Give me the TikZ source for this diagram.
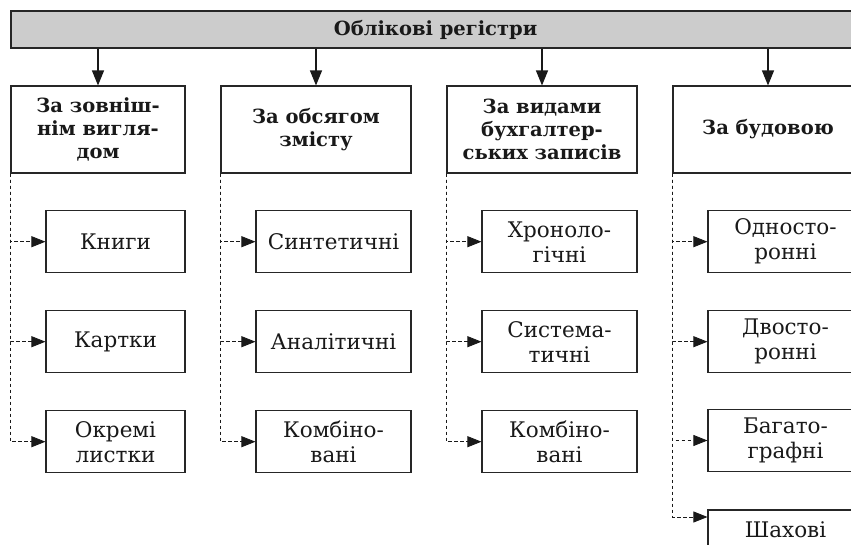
\documentclass[tikz,border=0pt]{standalone}
\usepackage{fontspec}
\setmainfont{DejaVu Serif}
\usetikzlibrary{arrows.meta}
\begin{document}
\begin{tikzpicture}[x=1pt, y=-1pt,
  every node/.style={draw=black!85, line width=1.1pt, inner sep=2pt, align=center, text=black!90},
  head/.style={fill=black!20, minimum width=849pt, minimum height=37pt, font=\bfseries\fontsize{19.5}{22}\selectfont},
  cat/.style={fill=white, minimum width=190pt, minimum height=87pt, font=\bfseries\fontsize{19.5}{23}\selectfont},
  item/.style={minimum width=155pt, minimum height=62pt, font=\fontsize{21.5}{25}\selectfont},
  down/.style={-{Triangle[length=15pt,width=12pt]}, line width=1.1pt, black!90},
  dashcon/.style={-{Triangle[length=14pt,width=11pt]}, line width=0.8pt, dash pattern=on 3.5pt off 2.5pt, black!90}]
  \clip (0,0) rectangle (851,544);
  % header bar
  \node[head] (reg) at (435.5,29.5) {Облікові регістри};
  % categories
  \node[cat, minimum width=174pt] (c1) at (98,129.5) {За зовніш-\\нім вигля-\\дом};
  \node[cat] (c2) at (316,129.5) {За обсягом\\змісту};
  \node[cat] (c3) at (542,129.5) {За видами\\бухгалтер-\\ських записів};
  \node[cat] (c4) at (768,129.5) {За будовою};
  \draw[down] (reg.south -| c1.north) -- (c1.north);
  \draw[down] (reg.south -| c2.north) -- (c2.north);
  \draw[down] (reg.south -| c3.north) -- (c3.north);
  \draw[down] (reg.south -| c4.north) -- (c4.north);
  % first column
  \node[item, minimum width=139pt] (s11) at (115.5,241.7) {Книги};
  \node[item, minimum width=139pt] (s12) at (115.5,341.7) {Картки};
  \node[item, minimum width=139pt] (s13) at (115.5,441.7) {Окремі\\листки};
  % second column
  \node[item] (s21) at (333.5,241.7) {Синтетичні};
  \node[item] (s22) at (333.5,341.7) {Аналітичні};
  \node[item] (s23) at (333.5,441.7) {Комбіно-\\вані};
  % third column
  \node[item] (s31) at (559.5,241.7) {Хроноло-\\гічні};
  \node[item] (s32) at (559.5,341.7) {Система-\\тичні};
  \node[item] (s33) at (559.5,441.7) {Комбіно-\\вані};
  % fourth column
  \node[item] (s41) at (785.5,241.7) {Односто-\\ронні};
  \node[item] (s42) at (785.5,341.7) {Двосто-\\ронні};
  \node[item] (s43) at (785.5,440.5) {Багато-\\графні};
  \node[item, minimum height=40pt] (s44) at (785.5,530) {Шахові};
  % dashed connectors
  \draw[dashcon] (c1.south west) |- (s11.west);
  \draw[dashcon] (c1.south west) |- (s12.west);
  \draw[dashcon] (c1.south west) |- (s13.west);
  \draw[dashcon] (c2.south west) |- (s21.west);
  \draw[dashcon] (c2.south west) |- (s22.west);
  \draw[dashcon] (c2.south west) |- (s23.west);
  \draw[dashcon] (c3.south west) |- (s31.west);
  \draw[dashcon] (c3.south west) |- (s32.west);
  \draw[dashcon] (c3.south west) |- (s33.west);
  \draw[dashcon] (c4.south west) |- (s41.west);
  \draw[dashcon] (c4.south west) |- (s42.west);
  \draw[dashcon] (c4.south west) |- (s43.west);
  \draw[dashcon] (c4.south west) |- ([yshift=13pt]s44.west);
\end{tikzpicture}
\end{document}
